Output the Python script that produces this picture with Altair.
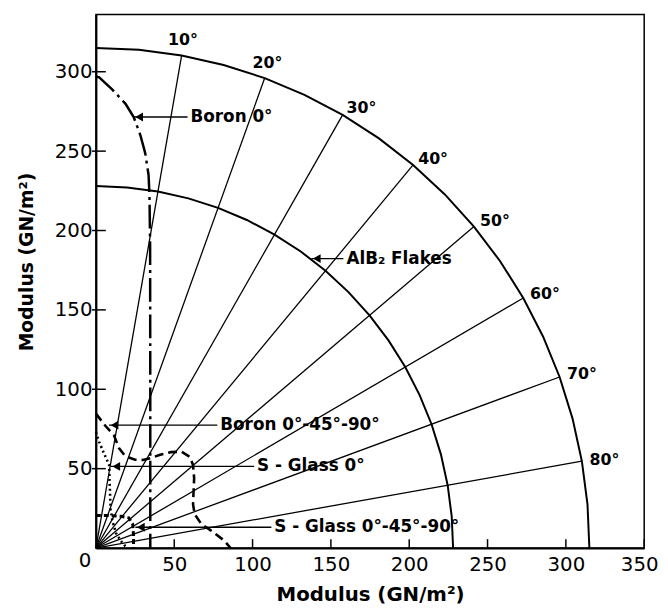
import math
import altair as alt
import pandas as pd

FONT = "DejaVu Sans"

# ---- polar grid (angles measured from the vertical axis, degrees) ----
ray_angles = [10, 20, 30, 40, 50, 60, 70, 80]
ray_labels = ["10°", "20°", "30°", "40°", "50°", "60°", "70°", "80°"]
outer_radius = 315
grid_angles = list(range(0, 91, 5))
outer_modulus = [315] * len(grid_angles)
alb2_modulus = [228] * len(grid_angles)   # AlB2 flakes (isotropic)

# ---- measured curves (x = modulus along 90 deg, y = modulus along 0 deg) ----
boron0_x = [0, 2.1, 10.5, 18.9, 24.1, 28.4, 31.5, 33.6, 34.2, 34.6, 34.7, 34.7]
boron0_y = [297, 296.5, 288.7, 279.8, 271.5, 260, 248.6, 235, 222, 190, 100, 0]

boronq_x = [0, 6, 11.5, 14.7, 18.9, 25, 30, 35, 41, 48, 54.6, 59.9, 62, 62.7, 62.3, 62, 63, 67.2, 73.5, 81.8, 86]
boronq_y = [84.7, 77, 71, 63, 57.7, 55.6, 55.5, 56.7, 58.7, 60.4, 60.7, 57.5, 52.3, 44, 35, 27.6, 21.4, 15.2, 11, 4.8, 0]

sglass0_x = [0, 2, 5, 8.4, 8.8, 9.4, 10.5, 13, 17, 20]
sglass0_y = [73, 67, 60, 52.5, 40, 24.5, 17, 9, 3, 0]

sglassq_x = [0, 8, 16, 21, 23.5, 24, 24]
sglassq_y = [20.5, 20.5, 20, 19, 15, 8, 0]

# ---- annotations ----
ann_text = ["Boron 0°", "AlB₂  Flakes", "Boron 0°-45°-90°", "S - Glass 0°", "S - Glass 0°-45°-90°"]
ann_tip_x = [24.1, 137.5, 8.4, 9.5, 25.2]
ann_text_x = [58.5, 158.0, 77.5, 101.0, 112.0]
ann_y = [271.5, 182.3, 77.4, 51.4, 13.1]

x_ticks = [50, 100, 150, 200, 250, 300, 350]
y_ticks = [50, 100, 150, 200, 250, 300]

W, H = 555, 540

# ---------------- data frames ----------------
def pol(a, r):
    t = math.radians(a)
    return r * math.sin(t), r * math.cos(t)

arc_rows = []
for name, mods in [("outer", outer_modulus), ("alb2", alb2_modulus)]:
    for i, (a, r) in enumerate(zip(grid_angles, mods)):
        px, py = pol(a, r)
        arc_rows.append({"x": px, "y": py, "series": name, "o": i})
arcs = pd.DataFrame(arc_rows)

ray_rows = []
for a in ray_angles:
    px, py = pol(a, outer_radius)
    ray_rows.append({"x": 0, "y": 0, "x2": px, "y2": py})
rays = pd.DataFrame(ray_rows)

lab_rows = []
for a, t in zip(ray_angles, ray_labels):
    px, py = pol(a, outer_radius + 5)
    lab_rows.append({"x": px, "y": py, "t": t, "a": a})
labs = pd.DataFrame(lab_rows)

def curve(xs, ys):
    return pd.DataFrame({"x": xs, "y": ys, "o": range(len(xs))})

ann = pd.DataFrame({"t": ann_text, "x": ann_tip_x, "x2": ann_text_x, "y": ann_y})
ann["xh"] = ann["x"] + 3.5

xt = pd.DataFrame({"x": x_ticks})
yt = pd.DataFrame({"y": y_ticks})

# ---------------- encodings ----------------
xscale = alt.Scale(domain=[0, 350], nice=False, zero=True)
yscale = alt.Scale(domain=[0, 336], nice=False, zero=True)
X = alt.X("x:Q", scale=xscale, axis=alt.Axis(
    values=x_ticks, title="Modulus (GN/m²)", titleY=47, titleBaseline="middle",
    labelPadding=7, labelFlush=True, labelFlushOffset=14, ticks=False, tickSize=0,
    titleFontSize=20))
Y = alt.Y("y:Q", scale=yscale, axis=alt.Axis(
    values=y_ticks, title="Modulus (GN/m²)", titleX=-70, titleY=250,
    titleAngle=-90, titleBaseline="middle", titleAlign="center",
    labelPadding=4, labelFlush=False, ticks=False, tickSize=0, titleFontSize=19))

rays_l = alt.Chart(rays).mark_rule(color="black", strokeWidth=1.3).encode(
    x=X, y=Y, x2="x2:Q", y2="y2:Q")
arcs_l = alt.Chart(arcs).mark_line(color="black", strokeWidth=2).encode(
    x=X, y=Y, detail="series:N", order="o:Q")

def curve_layer(df, dash, width):
    return alt.Chart(df).mark_line(color="black", strokeWidth=width, strokeDash=dash).encode(
        x=X, y=Y, order="o:Q")

b0 = curve_layer(curve(boron0_x, boron0_y), [24, 5, 3, 5], 2.5)
bq = curve_layer(curve(boronq_x, boronq_y), [9, 5], 2.6)
s0 = curve_layer(curve(sglass0_x, sglass0_y), [2, 3], 2.6)
sq = curve_layer(curve(sglassq_x, sglassq_y), [5, 3], 3)

lead = alt.Chart(ann).mark_rule(color="black", strokeWidth=1.3).encode(x=X, y=Y, x2="x2:Q")
heads = alt.Chart(ann).mark_point(shape="triangle-left", filled=True, color="black",
                                  size=80, opacity=1).encode(x=alt.X("xh:Q", scale=xscale), y=Y)
ann_txt = alt.Chart(ann).mark_text(align="left", baseline="middle", dx=3, font=FONT,
                                   fontSize=17, fontWeight="bold", color="black").encode(
    x=alt.X("x2:Q", scale=xscale), y=Y, text="t:N")

lab_small = alt.Chart(labs).transform_filter("datum.a <= 20").mark_text(
    align="center", baseline="bottom", font=FONT, fontSize=16, fontWeight="bold",
    color="black").encode(x=X, y=Y, text="t:N")
lab_large = alt.Chart(labs).transform_filter("datum.a > 20").mark_text(
    align="left", baseline="middle", font=FONT, fontSize=16, fontWeight="bold",
    color="black").encode(x=X, y=Y, text="t:N")

xtick_l = alt.Chart(xt).mark_rule(color="black", strokeWidth=1.5).encode(
    x=X, y=alt.value(H), y2=alt.value(H - 9))
ytick_l = alt.Chart(yt).mark_rule(color="black", strokeWidth=1.5).encode(
    y=Y, x=alt.value(-4), x2=alt.value(10))
origin = alt.Chart(pd.DataFrame({"t": ["0"]})).mark_text(
    font=FONT, fontSize=20, color="black", dx=-11, dy=13).encode(
    x=alt.datum(0, scale=xscale), y=alt.datum(0, scale=yscale), text="t:N")

chart = alt.layer(
    rays_l, arcs_l, b0, bq, s0, sq, lead, heads, ann_txt, lab_small, lab_large,
    xtick_l, ytick_l, origin
).properties(
    width=W, height=H,
    padding={"left": 89, "top": 3, "right": 16, "bottom": 55},
    autosize=alt.AutoSizeParams(type="none"),
).configure_view(
    stroke="black", strokeWidth=1.5
).configure_axis(
    grid=False, domainColor="black", domainWidth=2,
    labelFont=FONT, labelFontSize=20, labelColor="black",
    titleFont=FONT, titleFontWeight="bold", titleColor="black",
)

chart.save("out.html", embed_options={"renderer": "svg", "actions": False})
